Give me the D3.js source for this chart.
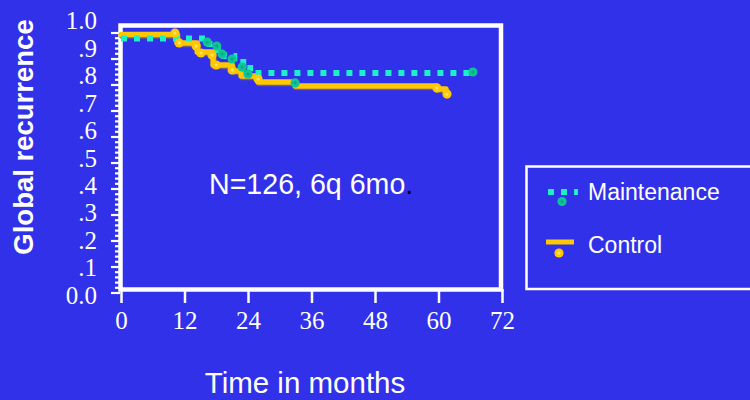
<!DOCTYPE html>
<html>
<head>
<meta charset="utf-8">
<script src="https://cdn.jsdelivr.net/npm/d3@7"></script>
<style>
  html, body { margin: 0; padding: 0; background: #3131e9; }
  svg { display: block; }
</style>
</head>
<body>
<svg id="chart" width="750" height="400"></svg>
<script>
// Kaplan-Meier step data (months, proportion)
const maintenanceTime = [0, 15.9, 18.3, 19.5, 21.4, 23.1, 24.4, 66.5];
const maintenanceSurv = [0.979, 0.958, 0.935, 0.912, 0.888, 0.865, 0.846, 0.846];
const maintenanceMarkTime = [16.3, 18.1, 19.1, 21.0, 22.9, 24.0, 32.9, 66.5];
const maintenanceMarkSurv = [0.965, 0.950, 0.919, 0.900, 0.869, 0.842, 0.808, 0.850];

const controlTime = [0, 10.6, 14.4, 17.4, 21.0, 22.7, 25.9, 32.9, 59.7, 61.4, 61.6];
const controlSurv = [0.994, 0.962, 0.927, 0.877, 0.854, 0.835, 0.812, 0.796, 0.785, 0.765, 0.765];
const controlMarkTime = [10.2, 11.0, 14.2, 15.1, 17.2, 18.0, 21.0, 25.9, 59.7, 61.6];
const controlMarkSurv = [1.000, 0.962, 0.950, 0.923, 0.915, 0.877, 0.858, 0.823, 0.788, 0.765];

const xTicks = [0, 12, 24, 36, 48, 60, 72];
const yTickValues = [0, 0.1, 0.2, 0.3, 0.4, 0.5, 0.6, 0.7, 0.8, 0.9, 1.0];
const yTickLabels = ["0.0", ".1", ".2", ".3", ".4", ".5", ".6", ".7", ".8", ".9", "1.0"];
const seriesNames = ["Maintenance", "Control"];
const annotation = "N=126, 6q 6mo";

const BG = "#3131e9";
const TEAL = "#1cf0c8";
const TEAL_DARK = "#10c496";
const GOLD = "#ffc800";

const svg = d3.select("#chart");
svg.append("rect").attr("width", 750).attr("height", 400).attr("fill", BG);

const x = d3.scaleLinear().domain([0, 72]).range([121, 502]);
const y = d3.scaleLinear().domain([0, 1]).range([293, 33]);
// tick labels sit a little higher than their tick marks
const yLab = d3.scaleLinear().domain([0, 1]).range([295, 20.5]);

// plot frame
svg.append("rect")
  .attr("x", 120.5).attr("y", 25.5)
  .attr("width", 501 - 120.5).attr("height", 289.5 - 25.5)
  .attr("fill", "none").attr("stroke", "#fff").attr("stroke-width", 4.5);

// y ticks: majors every .1, minors every .02
const minor = d3.range(0, 1.0001, 0.02);
svg.append("g").selectAll("line").data(minor).join("line")
  .attr("x1", d => Math.abs(Math.round(d * 10) - d * 10) < 1e-6 ? 111 : 115)
  .attr("x2", 120)
  .attr("y1", d => y(d)).attr("y2", d => y(d))
  .attr("stroke", "#fff").attr("stroke-width", 2.2);

svg.append("g").selectAll("text").data(yTickValues).join("text")
  .attr("x", 97).attr("y", d => yLab(d)).attr("dy", "0.35em")
  .attr("text-anchor", "end")
  .attr("font-family", "Liberation Serif, Times New Roman, serif")
  .attr("font-size", 25).attr("fill", "#fff")
  .text((d, i) => yTickLabels[i]);

// x axis
const xAxis = d3.axisBottom(x).tickValues(xTicks).tickSize(14).tickPadding(4);
const gx = svg.append("g").attr("transform", "translate(0,289)").call(xAxis);
gx.select(".domain").remove();
gx.selectAll(".tick line").attr("stroke", "#fff").attr("stroke-width", 2.5);
gx.selectAll(".tick text")
  .attr("fill", "#fff")
  .attr("font-family", "Liberation Serif, Times New Roman, serif")
  .attr("font-size", 25)
  .attr("y", 22);

// axis titles
svg.append("text")
  .attr("x", 305).attr("y", 393)
  .attr("text-anchor", "middle")
  .attr("font-family", "Liberation Sans, Arial, sans-serif")
  .attr("font-size", 29.5).attr("fill", "#fff")
  .text("Time in months");

svg.append("text")
  .attr("transform", "translate(33,137) rotate(-90)")
  .attr("text-anchor", "middle")
  .attr("font-family", "Liberation Sans, Arial, sans-serif")
  .attr("font-weight", "bold")
  .attr("font-size", 27.5).attr("fill", "#fff")
  .text("Global recurrence");

// annotation with a dark full stop
const ann = svg.append("text")
  .attr("x", 209).attr("y", 194)
  .attr("font-family", "Liberation Sans, Arial, sans-serif")
  .attr("font-size", 28.6).attr("fill", "#fff");
ann.append("tspan").text(annotation);
ann.append("tspan").attr("fill", "#000").text(".");

// curves
const step = d3.line().x(d => x(d[0])).y(d => y(d[1])).curve(d3.curveStepAfter);
const controlPts = d3.zip(controlTime, controlSurv);
const maintPts = d3.zip(maintenanceTime, maintenanceSurv);

svg.append("path").attr("d", step(controlPts))
  .attr("transform", "translate(1,1.5)")
  .attr("fill", "none").attr("stroke", "#6e5e88").attr("stroke-width", 5.5)
  .attr("stroke-linejoin", "round").attr("stroke-linecap", "round");
svg.append("path").attr("d", step(controlPts))
  .attr("fill", "none").attr("stroke", GOLD).attr("stroke-width", 5.5)
  .attr("stroke-linejoin", "round").attr("stroke-linecap", "round");

svg.append("path").attr("d", step(maintPts))
  .attr("fill", "none").attr("stroke", TEAL).attr("stroke-width", 6)
  .attr("stroke-dasharray", "6,7");

// censor markers
function markers(times, vals, fill, core) {
  const pts = d3.zip(times, vals);
  const g = svg.append("g");
  g.selectAll("circle.o").data(pts).join("circle").attr("class", "o")
    .attr("cx", d => x(d[0])).attr("cy", d => y(d[1])).attr("r", 4.6)
    .attr("fill", fill);
  g.selectAll("circle.i").data(pts).join("circle").attr("class", "i")
    .attr("cx", d => x(d[0])).attr("cy", d => y(d[1])).attr("r", 1.6)
    .attr("fill", core);
}
markers(controlMarkTime, controlMarkSurv, GOLD, "#ffe66a");
markers(maintenanceMarkTime, maintenanceMarkSurv, TEAL_DARK, "#0aa884");

// legend
svg.append("rect")
  .attr("x", 526.5).attr("y", 166.5).attr("width", 240).attr("height", 122.5)
  .attr("fill", "none").attr("stroke", "#fff").attr("stroke-width", 2.5);

const lg = svg.append("g");
lg.append("line").attr("x1", 548).attr("x2", 578).attr("y1", 192).attr("y2", 192)
  .attr("stroke", TEAL).attr("stroke-width", 6).attr("stroke-dasharray", "6,7");
lg.append("circle").attr("cx", 562).attr("cy", 201.5).attr("r", 4.6).attr("fill", TEAL_DARK);
lg.append("circle").attr("cx", 562).attr("cy", 201.5).attr("r", 1.6).attr("fill", "#0aa884");
lg.append("line").attr("x1", 546).attr("x2", 574).attr("y1", 242).attr("y2", 242)
  .attr("stroke", GOLD).attr("stroke-width", 5);
lg.append("circle").attr("cx", 559).attr("cy", 253).attr("r", 4.6).attr("fill", GOLD);
lg.append("circle").attr("cx", 559).attr("cy", 253).attr("r", 1.6).attr("fill", "#ffe66a");

lg.selectAll("text").data(seriesNames).join("text")
  .attr("x", 588).attr("y", (d, i) => i === 0 ? 200 : 253)
  .attr("font-family", "Liberation Sans, Arial, sans-serif")
  .attr("font-size", 23).attr("fill", "#fff")
  .text(d => d);
</script>
</body>
</html>
